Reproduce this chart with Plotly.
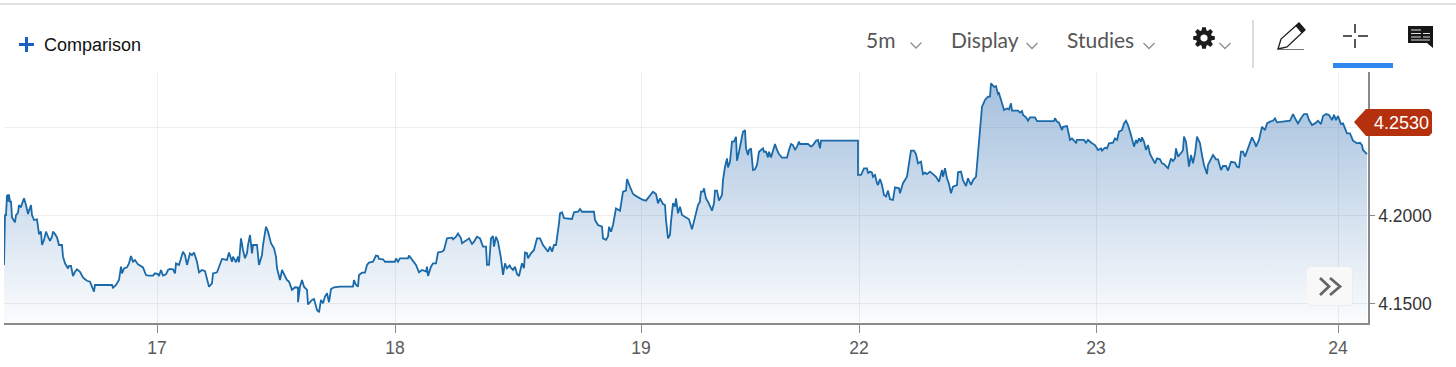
import math
import plotly.graph_objects as go

# Session tick labels and their position on the ordinal bar axis
session_labels = ["17", "18", "19", "22", "23", "24"]
session_bars = [153, 391, 637, 855, 1092, 1334]
price_ticks = [4.15, 4.20, 4.25]
price_labels = ["4.1500", "4.2000", ""]
last_price = 4.2530
last_price_label = "4.2530"

bars_a = [0,1,2,3,4,4,5,6,7,8,10,11,12,14,15,17,18,20,22,24,25,27,28,30,33,34,35,37,38,40,42,44,46,48,49,51,53,55,58,59,61,64,65,67,69,71,73,76,79,81,83,86,88,90,91,108,109,112,115,117,118,120,123,125,127,129,131,134,139,142,144,149,151,154,155,157,159,162,164,166]
prices_a = [4.1721,4.2005,4.2005,4.2119,4.2081,4.2119,4.2119,4.2081,4.2081,4.1992,4.1973,4.1964,4.2005,4.2018,4.2062,4.2049,4.2068,4.2100,4.2062,4.2011,4.2030,4.2062,4.2005,4.1977,4.1981,4.1920,4.1897,4.1911,4.1835,4.1863,4.1911,4.1882,4.1859,4.1882,4.1911,4.1897,4.1878,4.1835,4.1835,4.1769,4.1731,4.1702,4.1716,4.1716,4.1659,4.1683,4.1697,4.1683,4.1651,4.1640,4.1632,4.1627,4.1602,4.1570,4.1608,4.1608,4.1593,4.1608,4.1636,4.1712,4.1674,4.1702,4.1708,4.1731,4.1772,4.1740,4.1750,4.1725,4.1708,4.1664,4.1661,4.1661,4.1674,4.1670,4.1659,4.1693,4.1661,4.1668,4.1693,4.1697]

bars_b = [166,169,171,172,175,178,179,181,183,186,188,190,193,195,198,201,203,205,208,209,213,216,218,223,225,228,229,232,234,235,237,239,241,243,244,246,248,249,253,255,258,259,262,264,267,270,272,273,276,278,281,283,285,288,291,294,294,296,298,300,303,304,308,310,313,315,317,319,321,323,325,327,330,335]
prices_b = [4.1699,4.1697,4.1674,4.1731,4.1722,4.1778,4.1797,4.1778,4.1722,4.1788,4.1778,4.1793,4.1740,4.1680,4.1693,4.1687,4.1636,4.1598,4.1617,4.1674,4.1680,4.1722,4.1756,4.1750,4.1793,4.1740,4.1769,4.1737,4.1769,4.1737,4.1873,4.1807,4.1760,4.1788,4.1835,4.1892,4.1788,4.1835,4.1835,4.1722,4.1778,4.1835,4.1939,4.1911,4.1845,4.1816,4.1769,4.1703,4.1636,4.1693,4.1655,4.1636,4.1627,4.1580,4.1595,4.1593,4.1510,4.1598,4.1636,4.1598,4.1580,4.1498,4.1523,4.1528,4.1466,4.1453,4.1523,4.1504,4.1542,4.1561,4.1510,4.1585,4.1595,4.1598]

bars_c = [336,349,350,352,354,355,358,361,363,365,369,372,374,375,379,381,391,392,394,396,404,405,408,412,415,418,422,423,424,427,429,432,434,438,440,443,448,449,452,454,457,458,462,465,468,470,473,476,479,482,483,485,487,489,490,492,494,497,499,501,503,506]
prices_c = [4.1599,4.1599,4.1636,4.1608,4.1599,4.1665,4.1678,4.1678,4.1722,4.1735,4.1740,4.1775,4.1773,4.1756,4.1754,4.1740,4.1740,4.1759,4.1740,4.1759,4.1759,4.1775,4.1750,4.1722,4.1680,4.1693,4.1684,4.1712,4.1659,4.1712,4.1731,4.1731,4.1793,4.1797,4.1807,4.1873,4.1877,4.1867,4.1882,4.1901,4.1873,4.1845,4.1860,4.1873,4.1841,4.1854,4.1882,4.1873,4.1826,4.1826,4.1722,4.1722,4.1873,4.1886,4.1826,4.1882,4.1854,4.1759,4.1665,4.1731,4.1703,4.1722]

bars_d = [506,509,511,513,515,518,520,521,523,524,527,530,533,536,539,542,544,546,548,550,552,555,556,558,560,568,570,574,576,578,590,591,594,598,599,602,604,605,607,609,612,616,619,622,623,626,629,633,637,639,642,646,649,652,654,656,659,661,662,664,666,667,669,671,672,674,676,678,681,685,688,690,694,696]
prices_d = [4.1712,4.1693,4.1712,4.1670,4.1659,4.1731,4.1703,4.1792,4.1788,4.1760,4.1788,4.1807,4.1873,4.1873,4.1835,4.1816,4.1797,4.1826,4.1797,4.1835,4.1835,4.1958,4.2015,4.2021,4.1987,4.1983,4.2021,4.2024,4.2040,4.2024,4.2024,4.1977,4.1949,4.1939,4.1873,4.1864,4.1883,4.1939,4.1911,4.1949,4.2043,4.2030,4.2138,4.2144,4.2210,4.2166,4.2125,4.2110,4.2095,4.2091,4.2087,4.2119,4.2138,4.2125,4.2072,4.2100,4.2068,4.2062,4.1977,4.1873,4.1892,4.1968,4.2072,4.2053,4.2100,4.2015,4.2053,4.2006,4.1996,4.1981,4.1924,4.1968,4.2062,4.2081]

bars_e = [696,697,699,700,702,704,708,710,711,713,715,718,719,721,723,724,726,728,730,732,733,735,737,739,741,742,744,745,747,748,749,751,753,755,759,760,762,764,765,767,769,771,773,775,778,783,785,787,789,791,793,795,796,804,807,809,812,814,816,817,854,854,857,860,863,864,866]
prices_e = [4.2091,4.2138,4.2138,4.2157,4.2100,4.2081,4.2030,4.2072,4.2144,4.2144,4.2087,4.2119,4.2204,4.2280,4.2327,4.2276,4.2308,4.2422,4.2422,4.2450,4.2314,4.2365,4.2413,4.2479,4.2488,4.2384,4.2346,4.2375,4.2384,4.2333,4.2261,4.2265,4.2290,4.2365,4.2384,4.2365,4.2365,4.2333,4.2365,4.2333,4.2371,4.2409,4.2375,4.2352,4.2331,4.2331,4.2375,4.2409,4.2403,4.2375,4.2394,4.2422,4.2409,4.2409,4.2394,4.2403,4.2428,4.2432,4.2384,4.2428,4.2428,4.2233,4.2233,4.2271,4.2271,4.2242,4.2252]

bars_f = [868,869,871,873,874,876,878,880,882,884,886,889,891,895,896,899,901,903,905,907,910,912,914,917,919,921,923,926,929,932,935,938,939,941,943,945,947,949,953,954,957,959,962,964,967,969,972,974,975,977,978,981,984,986,987,990,992,994,995,998,1000,1003,1005,1007,1008,1014,1016]
prices_f = [4.2246,4.2223,4.2233,4.2186,4.2176,4.2210,4.2176,4.2119,4.2110,4.2144,4.2095,4.2091,4.2163,4.2157,4.2129,4.2186,4.2208,4.2223,4.2299,4.2371,4.2371,4.2352,4.2299,4.2309,4.2238,4.2246,4.2238,4.2252,4.2238,4.2223,4.2195,4.2261,4.2223,4.2271,4.2214,4.2182,4.2129,4.2167,4.2176,4.2248,4.2252,4.2204,4.2170,4.2214,4.2176,4.2204,4.2223,4.2346,4.2432,4.2545,4.2621,4.2659,4.2678,4.2678,4.2753,4.2734,4.2738,4.2693,4.2697,4.2640,4.2602,4.2611,4.2606,4.2640,4.2598,4.2598,4.2587]

bars_g = [1016,1018,1019,1022,1024,1026,1031,1033,1050,1051,1053,1055,1058,1059,1063,1065,1066,1068,1072,1073,1080,1082,1084,1088,1091,1094,1097,1098,1101,1103,1105,1109,1111,1113,1115,1118,1120,1122,1124,1127,1128,1130,1132,1133,1135,1137,1138,1140,1142,1144,1146,1148,1151,1153,1156,1158,1160,1164,1167,1169,1171,1172,1174,1178,1179,1180,1182,1185,1187,1189,1191,1193,1196]
prices_g = [4.2587,4.2596,4.2574,4.2560,4.2541,4.2560,4.2560,4.2539,4.2539,4.2555,4.2536,4.2530,4.2488,4.2507,4.2511,4.2460,4.2432,4.2441,4.2416,4.2432,4.2432,4.2416,4.2432,4.2413,4.2403,4.2375,4.2384,4.2371,4.2388,4.2384,4.2413,4.2416,4.2441,4.2432,4.2479,4.2488,4.2526,4.2541,4.2517,4.2460,4.2441,4.2394,4.2432,4.2413,4.2441,4.2422,4.2447,4.2422,4.2375,4.2403,4.2352,4.2333,4.2299,4.2327,4.2322,4.2299,4.2295,4.2271,4.2327,4.2312,4.2327,4.2384,4.2337,4.2365,4.2375,4.2451,4.2422,4.2280,4.2346,4.2299,4.2356,4.2451,4.2413]

bars_h = [1198,1200,1203,1204,1209,1212,1214,1217,1219,1222,1224,1227,1231,1233,1235,1237,1239,1241,1244,1248,1251,1252,1255,1258,1261,1263,1266,1269,1271,1273,1286,1289,1292,1294,1297,1300,1303,1305,1308,1311,1314,1317,1319,1322,1325,1328,1330,1332,1334,1337,1339,1343,1346,1349,1353,1356,1358,1359,1363]
prices_h = [4.2346,4.2290,4.2238,4.2290,4.2346,4.2322,4.2322,4.2261,4.2284,4.2284,4.2257,4.2308,4.2303,4.2280,4.2276,4.2365,4.2365,4.2337,4.2384,4.2447,4.2413,4.2394,4.2432,4.2507,4.2488,4.2526,4.2536,4.2541,4.2555,4.2532,4.2541,4.2579,4.2545,4.2526,4.2555,4.2579,4.2579,4.2545,4.2517,4.2526,4.2541,4.2522,4.2568,4.2579,4.2574,4.2545,4.2574,4.2545,4.2568,4.2522,4.2526,4.2469,4.2469,4.2428,4.2413,4.2416,4.2403,4.2375,4.2352]

sections = [(bars_a, prices_a), (bars_b, prices_b), (bars_c, prices_c), (bars_d, prices_d),
            (bars_e, prices_e), (bars_f, prices_f), (bars_g, prices_g), (bars_h, prices_h)]
bars, prices = [], []
for b, p in sections:
    n = min(len(b), len(p))
    bars += b[:n]
    prices += p[:n]

W, H = 1456, 367
L, R, T, B = 4, 1368, 72, 323


def px(x):
    return (x - L) / (R - L)


def py(y):
    return (B - y) / (B - T)


def poly(points, fill=None, line=None, width=1, close=True):
    d = "M" + " L".join(f"{px(x):.5f},{py(y):.5f}" for x, y in points) + (" Z" if close else "")
    return dict(type="path", xref="paper", yref="paper", path=d, layer="above",
                fillcolor=fill if fill else "rgba(0,0,0,0)",
                line=dict(color=line if line else "rgba(0,0,0,0)", width=width if line else 0))


def seg(x0, y0, x1, y1, color, width):
    return dict(type="line", xref="paper", yref="paper", x0=px(x0), y0=py(y0), x1=px(x1), y1=py(y1),
                layer="above", line=dict(color=color, width=width))


def box(x0, y0, x1, y1, fill):
    return dict(type="rect", xref="paper", yref="paper", x0=px(x0), y0=py(y0), x1=px(x1), y1=py(y1),
                layer="above", fillcolor=fill, line=dict(width=0))


def chevron(cx, cy, half=5.5, drop=5.5, color="#8f8f8f"):
    return poly([(cx - half, cy), (cx, cy + drop), (cx + half, cy)], line=color, width=1.3, close=False)


def rounded(x0, y0, x1, y1, r, fill, line=None):
    pts = []
    for cx, cy, a0 in [(x1 - r, y0 + r, -90), (x1 - r, y1 - r, 0), (x0 + r, y1 - r, 90), (x0 + r, y0 + r, 180)]:
        for k in range(6):
            a = math.radians(a0 + k * 18)
            pts.append((cx + r * math.cos(a), cy + r * math.sin(a)))
    return poly(pts, fill=fill, line=line, width=1)


def gear(cx, cy, outer=11, inner=8, teeth=8):
    pts = []
    for i in range(teeth):
        c = 2 * math.pi * i / teeth
        for off, rad in [(-0.30, inner), (-0.17, outer), (0.17, outer), (0.30, inner)]:
            pts.append((cx + rad * math.cos(c + off), cy + rad * math.sin(c + off)))
    hole = [(cx + 3.6 * math.cos(2 * math.pi * k / 16), cy + 3.6 * math.sin(2 * math.pi * k / 16)) for k in range(16)]
    return [poly(pts, fill="#1c1c1c"), poly(hole, fill="#ffffff")]


shapes = [
    box(0, 3, W, 5, "#e2e2e2"),
    seg(19, 44.5, 34, 44.5, "#1b5fc1", 3),
    seg(26.5, 37, 26.5, 52, "#1b5fc1", 3),
    chevron(916, 42.5), chevron(1032, 43), chevron(1149, 43), chevron(1225, 43),
    *gear(1204, 38),
    seg(1253, 20, 1253, 68, "#d0d0d0", 1.5),
    # pencil
    poly([(1278, 49), (1281, 39), (1299, 23), (1305, 30), (1287, 47)], fill="#ffffff", line="#1c1c1c", width=1.3),
    poly([(1296, 26), (1299, 23), (1305, 30), (1302, 33)], fill="#1c1c1c", line="#1c1c1c", width=1),
    seg(1278, 49.5, 1304, 49.5, "#777777", 1),
    # crosshair
    seg(1343, 36, 1352, 36, "#111111", 1.4), seg(1358, 36, 1368, 36, "#111111", 1.4),
    seg(1355, 24, 1355, 33, "#111111", 1.4), seg(1355, 39, 1355, 48, "#111111", 1.4),
    box(1333, 63, 1393, 68, "#2f87ef"),
    # comment icon
    poly([(1408, 26), (1433, 26), (1433, 48), (1427, 43), (1408, 43)], fill="#161616"),
    seg(1411, 30, 1421, 30, "#dddddd", 1), seg(1411, 33.5, 1421, 33.5, "#dddddd", 1),
    seg(1411, 37, 1421, 37, "#dddddd", 1), seg(1423, 33.5, 1430, 33.5, "#dddddd", 1),
    seg(1423, 37, 1430, 37, "#dddddd", 1), seg(1411, 40, 1430, 40, "#dddddd", 1),
    # last price flag
    poly([(1354, 122), (1366, 109), (1429, 109), (1432, 112), (1432, 133), (1429, 136), (1366, 136)], fill="#b5310e"),
    # scroll button
    rounded(1307, 268, 1353, 306, 4, "#ececec"),
    rounded(1307, 267, 1352, 305, 4, "#f8f8f8"),
    poly([(1320, 278), (1329, 286.5), (1320, 295)], line="#666666", width=2.8, close=False),
    poly([(1330, 278), (1340, 286.5), (1330, 295)], line="#666666", width=2.8, close=False),
]


def label(x, y, text, size, color, family="Lato", anchor="left"):
    return dict(xref="paper", yref="paper", x=px(x), y=py(y), text=text, showarrow=False, xanchor=anchor,
                yanchor="middle", xshift=0, font=dict(family=family, size=size, color=color))


annotations = [
    label(41.5, 45, "Comparison", 18, "#111111", "Liberation Sans"),
    label(863.5, 39.5, "5m", 21, "#565656"),
    label(948.5, 39.5, "Display", 21, "#565656"),
    label(1064.5, 39.5, "Studies", 21, "#565656"),
    label(1401, 123, last_price_label, 18, "#ffffff", "Liberation Sans", "center"),
]

fig = go.Figure(go.Scatter(
    x=bars, y=prices, mode="lines", line=dict(color="#1a6aa9", width=1.8), fill="tozeroy",
    fillgradient=dict(type="vertical", start=4.1392, stop=4.2760,
                      colorscale=[[0, "rgba(40,105,175,0.02)"], [1, "rgba(40,105,175,0.42)"]]),
    hoverinfo="skip", showlegend=False,
))
fig.update_layout(
    width=W, height=H, margin=dict(l=L, r=W - R, t=T, b=H - B), paper_bgcolor="#ffffff", plot_bgcolor="#ffffff",
    shapes=shapes, annotations=annotations, showlegend=False,
    xaxis=dict(range=[0, R - L], tickmode="array", tickvals=session_bars, ticktext=session_labels,
               showgrid=True, gridcolor="#eeeeee", gridwidth=1.3, zeroline=False, showline=True, linecolor="#8a8a8a",
               linewidth=1.5, ticks="outside", ticklen=8, tickcolor="#8a8a8a", tickwidth=1,
               tickfont=dict(family="Liberation Sans", size=17.5, color="#5a5a5a")),
    yaxis=dict(range=[4.1392, 4.2818], side="right", tickmode="array", tickvals=price_ticks, ticktext=price_labels,
               showgrid=True, gridcolor="#eeeeee", gridwidth=1.3, zeroline=False, showline=True, linecolor="#8a8a8a",
               linewidth=1.5, ticks="outside", ticklen=5, tickcolor="#8a8a8a", tickwidth=1,
               tickfont=dict(family="Liberation Sans", size=17.5, color="#333333")),
)
fig.write_html("out.html", config={"displayModeBar": False},
               post_script="document.body.style.margin='0';")
